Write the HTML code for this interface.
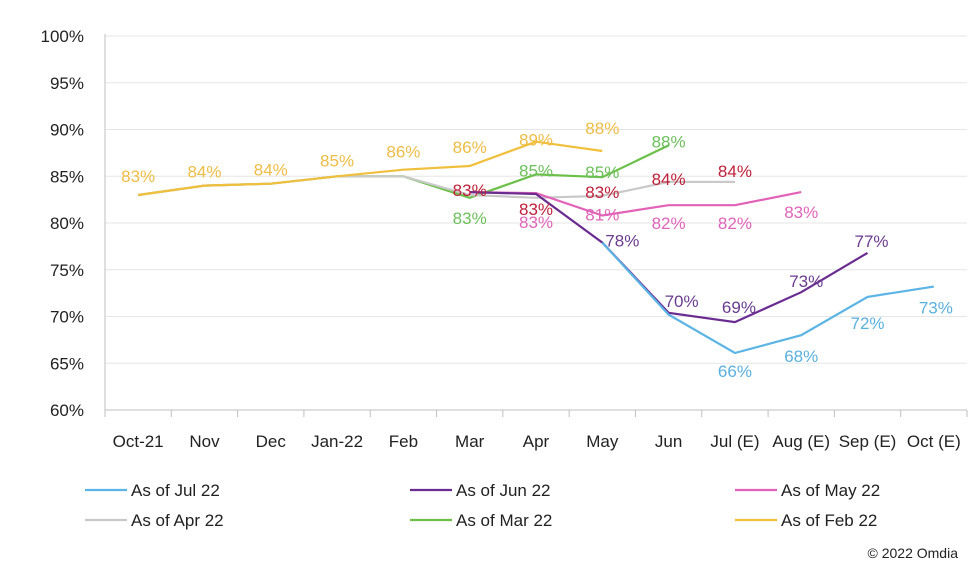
<!DOCTYPE html>
<html><head><meta charset="utf-8"><style>
body{margin:0;background:#fff;font-family:"Liberation Sans",sans-serif}
svg text{font-family:"Liberation Sans",sans-serif}
</style></head><body>
<svg id="chart" width="975" height="570" xmlns="http://www.w3.org/2000/svg"></svg>
<script>
const categories=["Oct-21","Nov","Dec","Jan-22","Feb","Mar","Apr","May","Jun","Jul (E)","Aug (E)","Sep (E)","Oct (E)"];
const yTicks=[60,65,70,75,80,85,90,95,100];
const seriesNames=["As of Jul 22","As of Jun 22","As of May 22","As of Apr 22","As of Mar 22","As of Feb 22"];
const valsFeb=[83,84,84.2,85,85.7,86.1,88.7,87.7,null,null,null,null,null];
const valsMar=[83,84,84.2,85,85,82.7,85.2,84.9,88.3,null,null,null,null];
const valsApr=[83,84,84.2,85,85,83,82.7,82.9,84.4,84.4,null,null,null];
const valsMay=[null,null,null,null,null,83.3,83.2,80.8,81.9,81.9,83.3,null,null];
const valsJun=[null,null,null,null,null,83.3,83.1,77.9,70.4,69.4,72.6,76.8,null];
const valsJul=[null,null,null,null,null,null,null,77.9,70.2,66.1,68,72.1,73.2];
// label layout offsets (pixels, not data)
const dyFeb=[-19,-14,-14,-16,-18,-19,-2,-23];
const dyMar=[0,0,0,0,0,20,-4,-5,-4];
const dyApr=[0,0,0,0,0,-5,11,-4,-3,-11];
const dyMay=[0,0,0,0,0,0,29,-1,18,18,20];
const dyJun=[0,0,0,0,0,0,0,-2,-12,-15,-11,-12];
const dyJul=[0,0,0,0,0,0,0,0,0,18,21,26,21];
const dxJun=[0,0,0,0,0,0,0,20,13,4,5,4];
const dxJul=[0,0,0,0,0,0,0,0,0,0,0,0,2];
const NS="http://www.w3.org/2000/svg";
const svg=document.getElementById('chart');
const L=105,R=967,T=36,B=410;
const step=(R-L)/categories.length;
const x=i=>L+step*(i+0.5);
const y=v=>B-(v-60)/40*(B-T);
function mk(tag,attrs,txt){const e=document.createElementNS(NS,tag);for(const k in attrs)e.setAttribute(k,attrs[k]);if(txt!==undefined)e.textContent=txt;svg.appendChild(e);return e;}
yTicks.forEach(t=>{
 const g=mk('line',{x1:L,x2:R,y1:y(t),y2:y(t),stroke:t===60?'#bfbfbf':'#e6e6e6','stroke-width':1});
 
 
 const tx=mk('text',{x:84,y:y(t)+6,'text-anchor':'end','font-size':17,fill:'#222'},t+'%');
 
 
});
const ax=mk('line',{x1:L,x2:L,y1:T-2,y2:B,stroke:'#bfbfbf'});


for(let i=0;i<=categories.length;i++){
 const tk=mk('line',{x1:L+step*i,x2:L+step*i,y1:B,y2:B+7,stroke:'#bfbfbf'});
 
 
}
categories.forEach((c,i)=>{
 const t=mk('text',{x:x(i),y:447,'text-anchor':'middle','font-size':17,fill:'#222'},c);
 
 
});
const zero=[0,0,0,0,0,0,0,0,0,0,0,0,0];
const series=[
 {n:'mar',v:valsMar,c:'#6cc04a',lc:'#6cbf5a',dy:dyMar,dx:zero},
 {n:'apr',v:valsApr,c:'#c9c9c9',lc:'#c0203a',dy:dyApr,dx:zero},
 {n:'feb',v:valsFeb,c:'#f0bf3c',lc:'#efbd45',dy:dyFeb,dx:zero},
 {n:'may',v:valsMay,c:'#e262b8',lc:'#e064b8',dy:dyMay,dx:zero},
 {n:'jun',v:valsJun,c:'#6a2c91',lc:'#6a3c8f',dy:dyJun,dx:dxJun},
 {n:'jul',v:valsJul,c:'#5bb4e5',lc:'#5ab0de',dy:dyJul,dx:dxJul}];
series.forEach(s=>{
 let d='';s.v.forEach((v,i)=>{if(v===null)return;d+=(d?'L':'M')+x(i).toFixed(1)+','+y(v).toFixed(1);});
 const p=mk('path',{d:d,fill:'none',stroke:s.c,'stroke-width':2.2});
 
 
});
const labelSkip={feb:[],mar:[0,1,2,3,4],apr:[0,1,2,3,4],may:[5],jun:[5,6],jul:[7,8]};
series.forEach(s=>{
 s.v.forEach((v,i)=>{
  if(v===null||labelSkip[s.n].includes(i))return;
  const t=mk('text',{x:x(i)+s.dx[i],y:y(v)+s.dy[i]+6,'text-anchor':'middle','font-size':17,fill:s.lc},Math.round(v)+'%');
  
  
 });
});
const legCols=['#5bb4e5','#6a2c91','#e262b8','#c9c9c9','#6cc04a','#f0bf3c'];
seriesNames.forEach((n,i)=>{
 const lx=85+(i%3)*325, ly=490+Math.floor(i/3)*30;
 const l=mk('line',{x1:lx,x2:lx+42,y1:ly,y2:ly,stroke:legCols[i],'stroke-width':2.2});
 
 
 const t=mk('text',{x:lx+46,y:ly+6,'font-size':17,fill:'#222'},n);
 
 
});
const cp=mk('text',{x:958,y:558,'text-anchor':'end','font-size':14,fill:'#222'},'© 2022 Omdia');


</script>
</body></html>
